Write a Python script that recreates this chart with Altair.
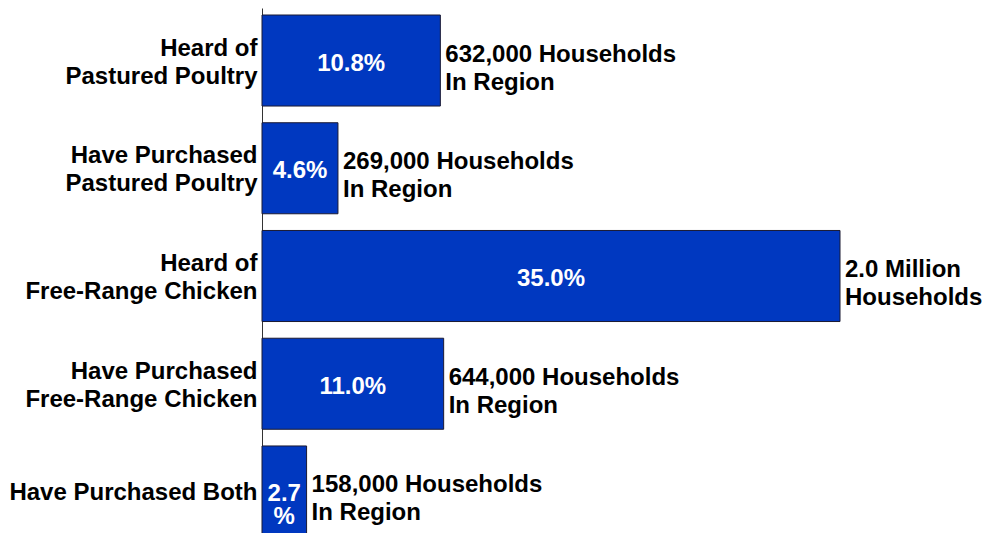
import altair as alt
import pandas as pd

categories = [
    "Heard of\u00a0\u00a0\nPastured Poultry",
    "Have Purchased\u00a0\nPastured Poultry",
    "Heard of\u00a0\u00a0\nFree-Range Chicken",
    "Have Purchased\u00a0\u00a0\nFree-Range Chicken",
    "Have Purchased Both",
]
values = [10.8, 4.6, 35.0, 11.0, 2.7]
pct_labels = ["10.8%", "4.6%", "35.0%", "11.0%", "2.7\n%"]
household_labels = [
    "632,000 Households\nIn Region",
    "269,000 Households\nIn Region",
    "2.0 Million\nHouseholds",
    "644,000 Households\nIn Region",
    "158,000 Households\nIn Region",
]

df = pd.DataFrame({
    "category": categories,
    "value": values,
    "pct": pct_labels,
    "households": household_labels,
})

FONT = "Liberation Sans"

y_enc = alt.Y(
    "category:N",
    sort=None,
    title=None,
    scale=alt.Scale(paddingInner=0.155, paddingOuter=0.065),
    axis=alt.Axis(
        labelExpr="split(datum.label, '\\n')",
        labelFont=FONT,
        labelFontSize=24,
        labelFontWeight="bold",
        labelColor="black",
        labelLineHeight=28,
        labelPadding=5,
        labelLimit=400,
        labelOffset={
            "condition": {"test": "indexof(datum.value, '\\n') >= 0", "value": -12},
            "value": 2,
        },
        ticks=False,
        domainColor="#333333",
        domainWidth=1,
        grid=False,
    ),
)
x_scale = alt.Scale(domain=[0, 35], nice=False, zero=True)

bars = alt.Chart(df).mark_bar(
    color="#0038C0", stroke="#1a1a33", strokeWidth=1
).encode(
    x=alt.X("value:Q", scale=x_scale, axis=None),
    y=y_enc,
)

inside = alt.Chart(df).transform_calculate(
    mid="datum.value / 2"
).mark_text(
    font=FONT, fontSize=24, fontWeight="bold", color="white",
    align="center", baseline="middle", lineBreak="\n", lineHeight=23, dy=3,
).encode(
    x=alt.X("mid:Q", scale=x_scale, axis=None),
    y=alt.Y("category:N", sort=None),
    text="pct:N",
)

outside = alt.Chart(df).mark_text(
    font=FONT, fontSize=24, fontWeight="bold", color="black",
    align="left", baseline="middle", lineBreak="\n", lineHeight=28, dx=5, dy=-6,
).encode(
    x=alt.X("value:Q", scale=x_scale, axis=None),
    y=alt.Y("category:N", sort=None),
    text="households:N",
)

chart = alt.layer(bars, inside, outside).properties(
    width=578,
    height=536,
    autosize="none",
    padding={"left": 254, "top": 0, "right": 142, "bottom": -11},
    background="white",
).configure_view(stroke=None)

chart.save("out.html", embed_options={"renderer": "svg", "actions": False})
